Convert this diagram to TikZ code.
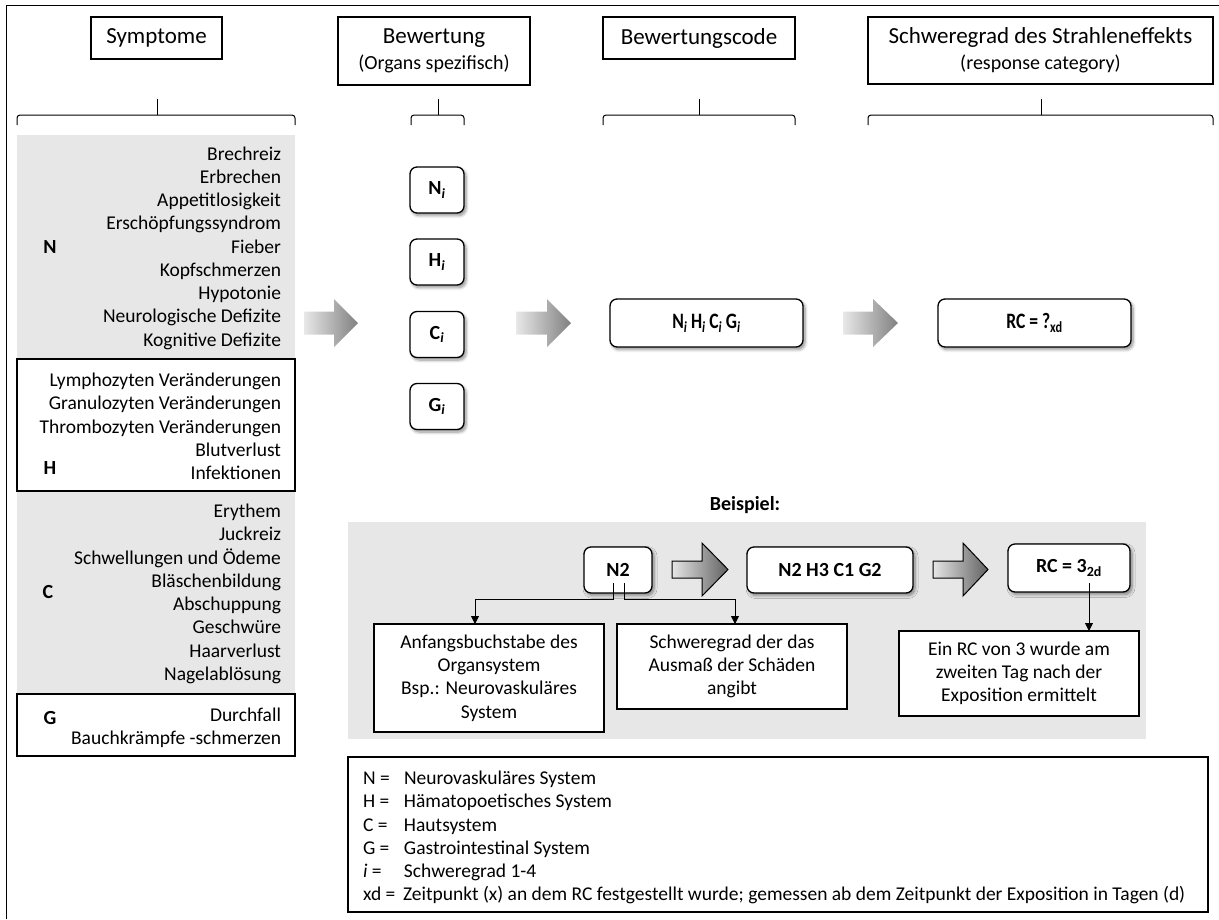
\documentclass[tikz,border=0pt]{standalone}
\usepackage{fontspec}
\setmainfont{Carlito}
\newfontfamily\condbf[FakeStretch=0.8]{Carlito}
\usetikzlibrary{calc,shadows,shadows.blur,arrows.meta}
\definecolor{panel}{RGB}{231,231,231}
\definecolor{arrowlight}{RGB}{232,232,232}
\definecolor{arrowdark}{RGB}{128,128,128}

\newcommand\topbrace[4]{% name, left x, right x, stem x
  \draw[line width=1pt, rounded corners=3pt] (#2,125) |- (#4,115) -| (#3,125);
  \draw[line width=1pt] (#4,115) -- (#4,99) coordinate (#1);}

% block arrow: style, tail x, head-start x, tip x, mid y, half shaft, half head
\newcommand\blockarrow[7]{%
  \path[#1] (#2,#5-#6) -- (#3,#5-#6) -- (#3,#5-#7) -- (#4,#5)
    -- (#3,#5+#7) -- (#3,#5+#6) -- (#2,#5+#6) -- cycle;}

\begin{document}
\begin{tikzpicture}[x=1pt,y=-1pt,
  every node/.style={inner sep=0pt, outer sep=0pt},
  txt/.style={font=\fontsize{19.5}{23.25}\selectfont},
  lbl/.style={font=\bfseries\fontsize{20}{24}\selectfont},
  hdrbox/.style={draw, line width=1.2pt, fill=white, align=center,
    font=\fontsize{23}{27}\selectfont},
  sub/.style={font=\fontsize{20}{24}\selectfont},
  shadowed/.style={blur shadow={shadow blur steps=6, shadow xshift=2pt,
    shadow yshift=-2.5pt, shadow blur radius=3pt, shadow opacity=45}},
  rbox/.style={draw, line width=1.3pt, rounded corners=7pt, fill=white,
    shadowed, font=\bfseries\fontsize{20}{24}\selectfont},
  codebox/.style={rbox, minimum width=193pt, minimum height=48pt,
    font=\condbf\bfseries\fontsize{22}{24}\selectfont},
  grouprect/.style={draw, line width=1.2pt, fill=white},
  exbox/.style={draw, line width=1.2pt, fill=white, align=center, txt},
  flowarrow/.style={left color=arrowlight, right color=arrowdark},
  exarrow/.style={draw=black, line width=1pt, left color=white!90!black,
    right color=black!62},
  conn/.style={line width=0.8pt, -{Triangle[length=8pt,width=8pt]}}
]
\useasboundingbox (0,0) rectangle (1219,919);
\draw[line width=1.2pt] (6.5,919) -- (6.5,5.5) -- (1219,5.5);

% column headers
\node[hdrbox, minimum width=131pt, minimum height=42pt] (hSym) at (156.5,38) {Symptome};
\node[hdrbox, minimum width=192pt, minimum height=68pt] (hBew) at (434,51)
  {Bewertung\\[-1pt]{\fontsize{20}{22}\selectfont (Organs spezifisch)}};
\node[hdrbox, minimum width=192pt, minimum height=42pt] (hCode) at (699,38) {Bewertungscode};
\node[hdrbox, minimum width=345pt, minimum height=67pt] (hRC) at (1040.5,50.5)
  {Schweregrad des Strahleneffekts\\[-1pt]{\fontsize{20}{22}\selectfont (response category)}};

% braces under the headers
\topbrace{brSym}{17}{295}{157}
\topbrace{brBew}{411}{464}{438}
\topbrace{brCode}{603}{795}{699}
\topbrace{brRC}{868}{1213}{1041}

% symptom groups
\fill[panel] (17,135) rectangle (295,693);
\draw[grouprect] (17,359) rectangle (295,491);
\draw[grouprect] (17,694) rectangle (295,756);

\node[txt, align=right, anchor=east] (symN) at (281,248)
  {Brechreiz\\Erbrechen\\Appetitlosigkeit\\Erschöpfungssyndrom\\Fieber\\Kopfschmerzen\\Hypotonie\\Neurologische Defizite\\Kognitive Defizite};
\node[txt, align=right, anchor=east] (symH) at (281,426.5)
  {Lymphozyten Veränderungen\\Granulozyten Veränderungen\\Thrombozyten Veränderungen\\Blutverlust\\Infektionen};
\node[txt, align=right, anchor=east] (symC) at (281,594)
  {Erythem\\Juckreiz\\Schwellungen und Ödeme\\Bläschenbildung\\Abschuppung\\Geschwüre\\Haarverlust\\Nagelablösung};
\node[txt, align=right, anchor=east] (symG) at (281,727.5)
  {Durchfall\\Bauchkrämpfe -schmerzen};

\node[lbl] (lN) at (50,247) {N};
\node[lbl] (lH) at (50,468) {H};
\node[lbl] (lC) at (48,592) {C};
\node[lbl] (lG) at (50,718) {G};

% organ-specific scores
\node[rbox, minimum width=54pt, minimum height=46pt] (sN) at (437,190) {N\textsubscript{\textit{i}}};
\node[rbox, minimum width=54pt, minimum height=46pt] (sH) at (437,262) {H\textsubscript{\textit{i}}};
\node[rbox, minimum width=54pt, minimum height=46pt] (sC) at (437,334.5) {C\textsubscript{\textit{i}}};
\node[rbox, minimum width=54pt, minimum height=46pt] (sG) at (437,406.5) {G\textsubscript{\textit{i}}};

% code and response category
\node[codebox] (code) at (706.5,323)
  {N\textsubscript{\textit{i}}\,H\textsubscript{\textit{i}}\,C\textsubscript{\textit{i}}\,G\textsubscript{\textit{i}}};
\node[codebox] (rc) at (1034.5,323) {RC = ?\textsubscript{xd}};

% flow arrows
\blockarrow{flowarrow}{304}{334}{358}{323}{11.5}{24}
\blockarrow{flowarrow}{516}{547}{571}{323}{11.5}{24}
\blockarrow{flowarrow}{843}{873}{898}{323}{11.5}{24}

% worked example
\node[lbl] (bsp) at (745,505) {Beispiel:};
\fill[panel] (348,522) rectangle (1146,739);

\node[rbox, minimum width=68pt, minimum height=46pt] (n2) at (618,570) {N2};
\node[rbox, minimum width=166pt, minimum height=46pt] (code2) at (830,570) {N2 H3 C1 G2};
\node[rbox, minimum width=122pt, minimum height=48pt] (rc2) at (1069,568) {RC = 3\textsubscript{2d}};
\blockarrow{exarrow}{672}{702}{728}{569.5}{8.5}{26.5}
\blockarrow{exarrow}{933}{963}{988}{569.5}{8.5}{26.5}

\node[exbox, minimum width=230pt, minimum height=108pt] (ex1) at (489,678)
  {Anfangsbuchstabe des\\Organsystem\\Bsp.: Neurovaskuläres\\System};
\node[exbox, minimum width=230pt, minimum height=85pt] (ex2) at (732,666.5)
  {Schweregrad der das\\Ausmaß der Schäden\\angibt};
\node[exbox, minimum width=240pt, minimum height=85pt] (ex3) at (1019,673.5)
  {Ein RC von 3 wurde am\\zweiten Tag nach der\\Exposition ermittelt};

\draw[conn] ($(n2.south)+(-5,-10)$) -- ($(n2.south)+(-5,6)$) -| ($(ex1.north)+(-14,0)$);
\draw[conn] ($(n2.south)+(6,-10)$) -- ($(n2.south)+(6,6)$) -| ($(ex2.north)+(3,0)$);
\draw[conn] ($(rc2.south)+(20,-9)$) -- ($(ex3.north)+(70,0)$);

% legend
\node[draw, line width=1.2pt, minimum width=860pt, minimum height=155pt, anchor=north west] (legend) at (348,757) {};
\node[txt, align=left, anchor=north west] (legtxt) at ($(legend.north west)+(15,14)$)
  {\makebox[41pt][l]{N =}Neurovaskuläres System\\
   \makebox[41pt][l]{H =}Hämatopoetisches System\\
   \makebox[41pt][l]{C =}Hautsystem\\
   \makebox[41pt][l]{G =}Gastrointestinal System\\
   \makebox[41pt][l]{\textit{i} =}Schweregrad 1-4\\
   xd = \,Zeitpunkt (x) an dem RC festgestellt wurde; gemessen ab dem Zeitpunkt der Exposition in Tagen (d)};
\end{tikzpicture}
\end{document}
